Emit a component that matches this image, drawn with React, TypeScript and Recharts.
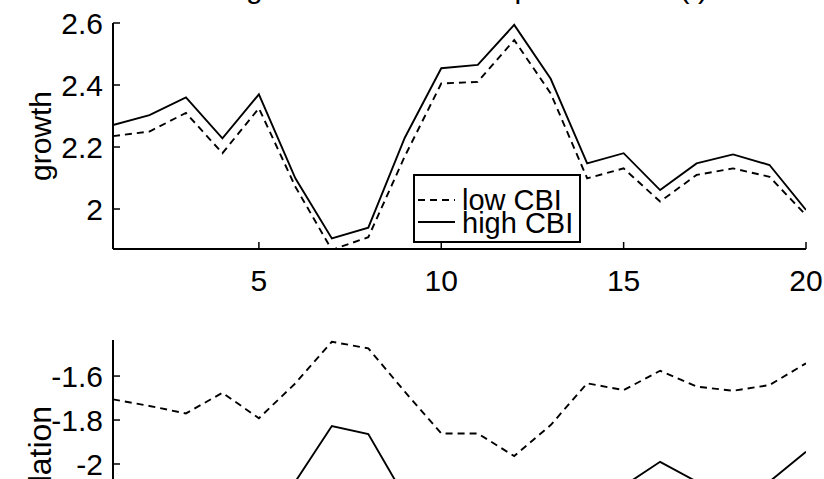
import React from "react";
import { LineChart, Line, XAxis, YAxis, Legend } from "recharts";

const periods = [1, 2, 3, 4, 5, 6, 7, 8, 9, 10, 11, 12, 13, 14, 15, 16, 17, 18, 19, 20];
const growthLow = [2.235, 2.25, 2.31, 2.18, 2.325, 2.072, 1.868, 1.909, 2.17, 2.405, 2.41, 2.545, 2.373, 2.099, 2.131, 2.024, 2.11, 2.131, 2.104, 1.98];
const growthHigh = [2.271, 2.303, 2.36, 2.228, 2.37, 2.099, 1.905, 1.94, 2.23, 2.454, 2.465, 2.594, 2.42, 2.147, 2.18, 2.061, 2.147, 2.176, 2.142, 1.997];
const inflationLow = [-1.706, -1.736, -1.77, -1.676, -1.792, -1.633, -1.444, -1.474, -1.671, -1.861, -1.861, -1.964, -1.823, -1.633, -1.664, -1.576, -1.648, -1.667, -1.641, -1.542];
const inflationHigh = [-2.25, -2.3, -2.28, -2.2, -2.3, -2.08, -1.827, -1.864, -2.15, -2.35, -2.38, -2.42, -2.3, -2.15, -2.1, -1.99, -2.08, -2.15, -2.08, -1.944];
const xTicks = [5, 10, 15, 20];
const growthTicks = [2, 2.2, 2.4, 2.6];
const inflationTicks = [-2.4, -2.2, -2, -1.8, -1.6];
const seriesNames = ["low CBI", "high CBI"];
const titleText = "growth and inflation path at time (t)";

const FONT = '"Liberation Sans", Arial, Helvetica, sans-serif';
const TICK = 7;
const margin = { top: 23, right: 18, bottom: 0, left: 0 };

const growthRows = periods.map((p, i) => ({ x: p, low: growthLow[i], high: growthHigh[i] }));
const inflationRows = periods.map((p, i) => ({ x: p, low: inflationLow[i], high: inflationHigh[i] }));

function BottomTick({ x, y, payload }: any) {
  return (
    <g>
      <line x1={x} x2={x} y1={y} y2={y - TICK} stroke="#000" strokeWidth={1.5} />
      <text x={x} y={y + 42} textAnchor="middle" fontSize={30} fontFamily={FONT} fill="#000">
        {payload.value}
      </text>
    </g>
  );
}

function TopTick({ x, y }: any) {
  return <line x1={x} x2={x} y1={y} y2={y + TICK} stroke="#000" strokeWidth={1.5} />;
}

function LeftTick({ x, y, payload }: any) {
  return (
    <g>
      <line x1={x} x2={x + TICK} y1={y} y2={y} stroke="#000" strokeWidth={1.5} />
      <text x={x - 10} y={y} dy="0.36em" textAnchor="end" fontSize={30} fontFamily={FONT} fill="#000">
        {payload.value}
      </text>
    </g>
  );
}

function RightTick({ x, y }: any) {
  return <line x1={x} x2={x - TICK} y1={y} y2={y} stroke="#000" strokeWidth={1.5} />;
}

function LegendBox({ payload }: any) {
  const items = [...(payload || [])].sort(
    (a: any, b: any) => seriesNames.indexOf(a.value) - seriesNames.indexOf(b.value)
  );
  return (
    <svg width={164} height={65} style={{ display: "block" }}>
      {items.map((e: any, i: number) => (
        <g key={e.value}>
          <line
            x1={3}
            x2={40}
            y1={24 + i * 22}
            y2={24 + i * 22}
            stroke="#000"
            strokeWidth={1.8}
            strokeDasharray={e.payload?.strokeDasharray}
          />
          <text x={47} y={34 + i * 23} fontSize={29} fontFamily={FONT} fill="#000">
            {e.value}
          </text>
        </g>
      ))}
    </svg>
  );
}

function Panel({ rows, domain, ticks, yLabel, labelY, labelSize, withLegend, title }: any) {
  const axis = { stroke: "#000", strokeWidth: 2 };
  return (
    <LineChart width={824} height={300} data={rows} margin={margin}>
      <XAxis
        dataKey="x"
        type="number"
        domain={[1, 20]}
        ticks={xTicks}
        interval={0}
        allowDataOverflow
        height={51}
        tickSize={0}
        tickMargin={0}
        tickLine={false}
        axisLine={axis}
        tick={(p: any) => <BottomTick {...p} />}
      />
      <XAxis
        xAxisId="top"
        orientation="top"
        type="number"
        domain={[1, 20]}
        ticks={xTicks}
        interval={0}
        allowDataOverflow
        height={0}
        tickSize={0}
        tickMargin={0}
        tickLine={false}
        axisLine={axis}
        tick={(p: any) => <TopTick {...p} />}
      />
      <YAxis
        type="number"
        domain={domain}
        ticks={ticks}
        interval={0}
        allowDataOverflow
        width={113}
        tickSize={0}
        tickMargin={0}
        tickLine={false}
        axisLine={axis}
        tick={(p: any) => <LeftTick {...p} />}
        label={() => (
          <g>
            {title && (
              <text x={246} y={-2} fontSize={30} fontFamily={FONT} fill="#000">
                {title}
              </text>
            )}
            <text
              x={40}
              y={labelY}
              transform={`rotate(-90 40 ${labelY})`}
              textAnchor="middle"
              dominantBaseline="central"
              fontSize={labelSize}
              fontFamily={FONT}
              fill="#000"
            >
              {yLabel}
            </text>
          </g>
        )}
      />
      <YAxis
        yAxisId="right"
        orientation="right"
        type="number"
        domain={domain}
        ticks={ticks}
        interval={0}
        allowDataOverflow
        width={0}
        tickSize={0}
        tickMargin={0}
        tickLine={false}
        axisLine={axis}
        tick={(p: any) => <RightTick {...p} />}
      />
      <Line
        type="linear"
        dataKey="low"
        name={seriesNames[0]}
        stroke="#000"
        strokeWidth={1.9}
        strokeDasharray="7 5"
        dot={false}
        activeDot={false}
        isAnimationActive={false}
      />
      <Line
        type="linear"
        dataKey="high"
        name={seriesNames[1]}
        stroke="#000"
        strokeWidth={1.9}
        dot={false}
        activeDot={false}
        isAnimationActive={false}
      />
      {withLegend && (
        <Legend
          layout="vertical"
          align="center"
          verticalAlign="middle"
          content={(p: any) => <LegendBox {...p} />}
          wrapperStyle={{
            left: 413,
            top: 174,
            width: 168,
            height: 69,
            border: "2px solid #000",
            background: "#fff",
            boxSizing: "border-box",
          }}
        />
      )}
    </LineChart>
  );
}

export default function App() {
  return (
    <div
      style={{
        position: "fixed",
        left: 0,
        top: 0,
        width: 824,
        height: 479,
        overflow: "hidden",
        background: "#fff",
      }}
    >
      <div style={{ position: "absolute", left: 0, top: 0 }}>
        <Panel
          rows={growthRows}
          domain={[1.871, 2.6]}
          ticks={growthTicks}
          yLabel="growth"
          labelY={136}
          labelSize={30}
          withLegend
          title={titleText}
        />
      </div>
      <div style={{ position: "absolute", left: 0, top: 317 }}>
        <Panel
          rows={inflationRows}
          domain={[-2.464, -1.436]}
          ticks={inflationTicks}
          yLabel="inflation"
          labelY={144}
          labelSize={32}
        />
      </div>
    </div>
  );
}
